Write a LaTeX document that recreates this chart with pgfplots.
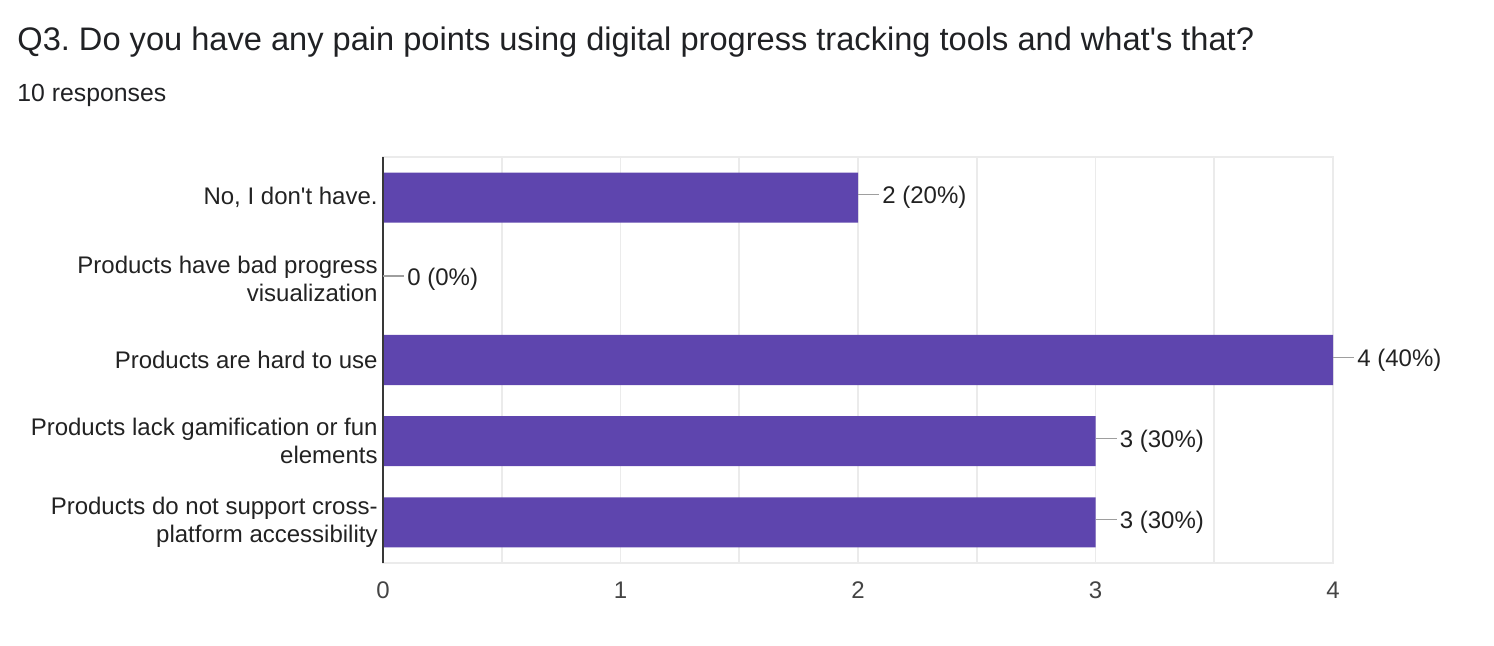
\documentclass[border=0pt]{standalone}
\usepackage{fontspec}
\setmainfont{Liberation Sans}[Ligatures=TeXOff]
\usepackage{pgfplots}
\pgfplotsset{compat=1.18}
\definecolor{barc}{HTML}{5E45AE}
\definecolor{gridc}{HTML}{EBEBEB}
\definecolor{txt}{HTML}{222222}
\definecolor{ttl}{HTML}{202124}
\definecolor{lead}{HTML}{9E9E9E}
\definecolor{tick}{HTML}{444444}
\frenchspacing
\begin{document}
\begin{tikzpicture}[x=1pt,y=1pt]
\useasboundingbox (0,0) rectangle (747,323);
\node[anchor=west, inner sep=0pt, font=\fontsize{16.3}{18}\selectfont, text=ttl] at (8.5,302) {Q3. Do you have any pain points using digital progress tracking tools and what's that?};
\node[anchor=west, inner sep=0pt, font=\fontsize{12.4}{14}\selectfont, text=ttl] at (8.5,275.5) {10 responses};
\begin{axis}[
  at={(191.5pt,41.5pt)}, anchor=south west,
  width=475pt, height=203pt, scale only axis,
  xbar, xmin=0, xmax=4, ymin=-0.5, ymax=4.5, y dir=reverse,
  ytick={0,1,2,3,4},
  yticklabels={{No, I don't have.},{Products have bad progress\\visualization},{Products are hard to use},{Products lack gamification or fun\\elements},{Products do not support cross-\\platform accessibility}},
  yticklabel style={align=right, font=\fontsize{12}{14}\selectfont, text=txt, inner sep=2.5pt},
  xtick={0,1,2,3,4}, minor xtick={0.5,1.5,2.5,3.5},
  xmajorgrids, xminorgrids,
  grid style={gridc, line width=0.8pt},
  minor grid style={gridc, line width=0.8pt},
  major tick length=0pt, minor tick length=0pt,
  axis line style={gridc, line width=1pt},
  xticklabel style={font=\fontsize{12}{14}\selectfont, text=tick, yshift=-6pt},
  /pgf/number format/assume math mode=true,
  bar width=25pt,
  point meta=explicit symbolic,
  nodes near coords={\textcolor{lead}{\rule[0.35em]{10.5pt}{0.6pt}}\hspace{1.5pt}\pgfplotspointmeta},
  nodes near coords style={anchor=west, inner sep=0pt, font=\fontsize{12}{14}\selectfont, text=txt},
  clip=false,
]
\addplot[fill=barc, draw=none] coordinates {
  (2,0) [2 (20\%)]
  (0,1) [0 (0\%)]
  (4,2) [4 (40\%)]
  (3,3) [3 (30\%)]
  (3,4) [3 (30\%)]
};
\draw[color=txt!90, line width=1pt] (rel axis cs:0,0) -- (rel axis cs:0,1);
\end{axis}
\end{tikzpicture}
\end{document}
